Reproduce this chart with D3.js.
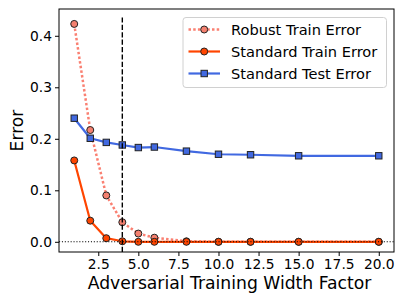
<!DOCTYPE html>
<html>
<head>
<meta charset="utf-8">
<script src="https://cdn.jsdelivr.net/npm/d3@7"></script>
<style>
  html, body { margin: 0; padding: 0; background: #fff; }
  svg { display: block; }
  text { font-family: "DejaVu Sans", sans-serif; }
</style>
</head>
<body>
<svg id="chart" width="405" height="304"></svg>
<script>
// ---- data ----
const widthFactors = [1, 2, 3, 4, 5, 6, 8, 10, 12, 15, 20];
const robustTrainError = [0.423, 0.217, 0.090, 0.038, 0.016, 0.008, 0.001, 0.0, 0.0, 0.0, 0.0];
const standardTrainError = [0.158, 0.041, 0.007, 0.001, 0.0, 0.0, 0.0, 0.0, 0.0, 0.0, 0.0];
const standardTestError = [0.240, 0.201, 0.193, 0.188, 0.183, 0.184, 0.176, 0.170, 0.169, 0.167, 0.167];
const xTicks = [2.5, 5.0, 7.5, 10.0, 12.5, 15.0, 17.5, 20.0];
const yTicks = [0.0, 0.1, 0.2, 0.3, 0.4];
const seriesNames = ["Robust Train Error", "Standard Train Error", "Standard Test Error"];
const markedWidth = 4;

// ---- layout ----
const svg = d3.select("#chart");
const L = 59, R = 394, T = 9, B = 252;
const x = d3.scaleLinear().domain([0.05, 20.95]).range([L, R]);
const y = d3.scaleLinear().domain([-0.0198, 0.452]).range([B, T]);

const series = [
  { name: seriesNames[0], values: robustTrainError, color: "#fa8072", lw: 2.5, dash: "2.5,2.2", marker: "circle", fill: "#f4806f" },
  { name: seriesNames[1], values: standardTrainError, color: "#ff4500", lw: 2.2, dash: null, marker: "circle", fill: "#ff4500" },
  { name: seriesNames[2], values: standardTestError, color: "#4169e1", lw: 2.2, dash: null, marker: "square", fill: "#4169e1" }
];

const plot = svg.append("g");
const line = d3.line().x((d, i) => x(widthFactors[i])).y(d => y(d));

series.forEach(s => {
  const g = plot.append("g");
  g.append("path")
    .datum(s.values)
    .attr("d", line)
    .attr("fill", "none")
    .attr("stroke", s.color)
    .attr("stroke-width", s.lw)
    .attr("stroke-dasharray", s.dash)
    .attr("stroke-linejoin", "round");
  if (s.marker === "circle") {
    g.selectAll("circle").data(s.values).join("circle")
      .attr("cx", (d, i) => x(widthFactors[i]))
      .attr("cy", d => y(d))
      .attr("r", 3.5)
      .attr("fill", s.fill)
      .attr("stroke", "#222")
      .attr("stroke-width", 1);
  } else {
    g.selectAll("rect").data(s.values).join("rect")
      .attr("x", (d, i) => x(widthFactors[i]) - 3.2)
      .attr("y", d => y(d) - 3.2)
      .attr("width", 6.4)
      .attr("height", 6.4)
      .attr("fill", s.fill)
      .attr("stroke", "#222")
      .attr("stroke-width", 1);
  }
});

// reference lines
plot.append("line")
  .attr("x1", L).attr("x2", R)
  .attr("y1", y(0)).attr("y2", y(0))
  .attr("stroke", "#000").attr("stroke-width", 1.1)
  .attr("stroke-dasharray", "1.1,1.8");
plot.append("line")
  .attr("x1", x(markedWidth)).attr("x2", x(markedWidth))
  .attr("y1", B).attr("y2", y(0.437))
  .attr("stroke", "#000").attr("stroke-width", 1.4)
  .attr("stroke-dasharray", "5.2,2.2");

// axes
const xAxis = svg.append("g").attr("transform", `translate(0,${B})`)
  .call(d3.axisBottom(x).tickValues(xTicks).tickFormat(d3.format(".1f")).tickSize(4).tickPadding(3));
const yAxis = svg.append("g").attr("transform", `translate(${L},0)`)
  .call(d3.axisLeft(y).tickValues(yTicks).tickFormat(d3.format(".1f")).tickSize(4).tickPadding(3));
[xAxis, yAxis].forEach(a => {
  a.select(".domain").remove();
  a.selectAll(".tick line").attr("stroke", "#000").attr("stroke-width", 1);
  a.selectAll(".tick text").attr("fill", "#000").style("font-size", "13.8px").style("font-family", "DejaVu Sans");
});

// frame
svg.append("rect")
  .attr("x", L).attr("y", T).attr("width", R - L).attr("height", B - T)
  .attr("fill", "none").attr("stroke", "#000").attr("stroke-width", 1);

// axis labels
svg.append("text")
  .attr("x", (L + R) / 2 + 3).attr("y", 289)
  .attr("text-anchor", "middle")
  .style("font-size", "17.2px")
  .text("Adversarial Training Width Factor");
svg.append("text")
  .attr("transform", `translate(23,${(T + B) / 2}) rotate(-90)`)
  .attr("text-anchor", "middle")
  .style("font-size", "17.2px")
  .text("Error");

// legend
const lg = svg.append("g");
lg.append("rect")
  .attr("x", 183).attr("y", 17.5).attr("width", 203.5).attr("height", 70)
  .attr("rx", 3).attr("fill", "#fff").attr("fill-opacity", 0.8)
  .attr("stroke", "#d0d0d0").attr("stroke-width", 1);
series.forEach((s, i) => {
  const cy = 29.5 + i * 22;
  lg.append("line")
    .attr("x1", 188.5).attr("x2", 220)
    .attr("y1", cy).attr("y2", cy)
    .attr("stroke", s.color).attr("stroke-width", s.lw)
    .attr("stroke-dasharray", s.dash);
  if (s.marker === "circle") {
    lg.append("circle").attr("cx", 204.2).attr("cy", cy).attr("r", 3.5)
      .attr("fill", s.fill).attr("stroke", "#222").attr("stroke-width", 1);
  } else {
    lg.append("rect").attr("x", 201).attr("y", cy - 3.2).attr("width", 6.4).attr("height", 6.4)
      .attr("fill", s.fill).attr("stroke", "#222").attr("stroke-width", 1);
  }
  lg.append("text")
    .attr("x", 231).attr("y", cy)
    .attr("dy", "0.36em")
    .style("font-size", "14.6px")
    .text(s.name);
});
</script>
</body>
</html>
